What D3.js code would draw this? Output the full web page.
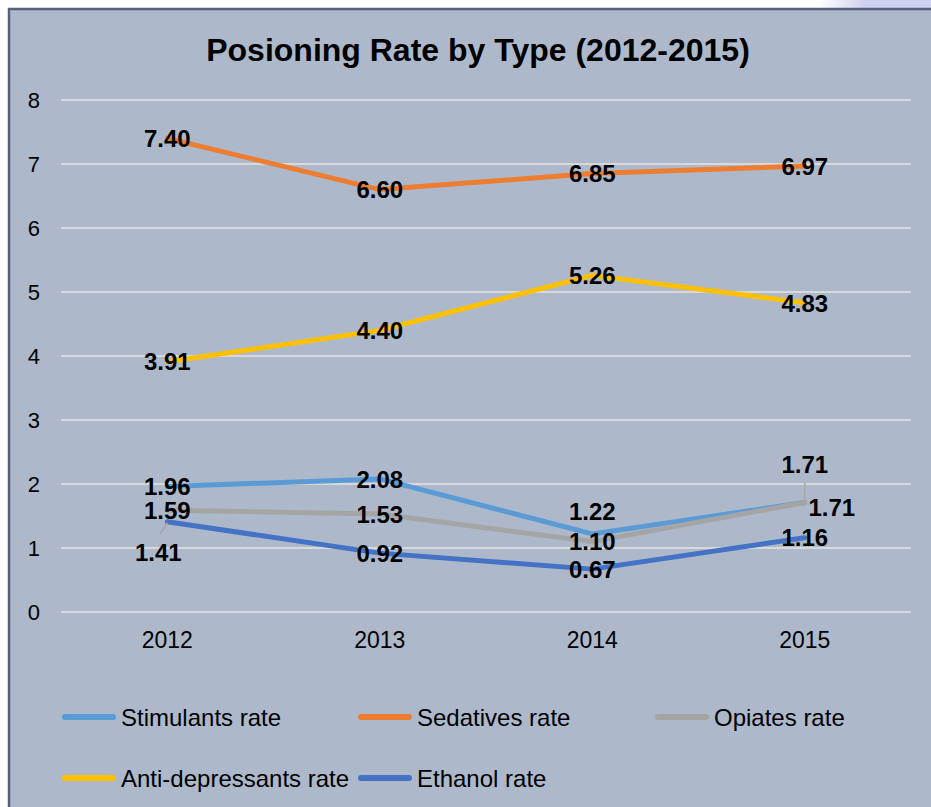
<!DOCTYPE html>
<html>
<head>
<meta charset="utf-8">
<script src="https://cdn.jsdelivr.net/npm/d3@7"></script>
<style>
  html, body { margin: 0; padding: 0; background: #ffffff; }
  svg { display: block; font-family: Arial, "Liberation Sans", sans-serif; }
</style>
</head>
<body>
<div id="chart"></div>
<script>
// Chart data
const years = ["2012", "2013", "2014", "2015"];
const stimulants = [1.96, 2.08, 1.22, 1.71];
const sedatives = [7.40, 6.60, 6.85, 6.97];
const opiates = [1.59, 1.53, 1.10, 1.71];
const antiDepressants = [3.91, 4.40, 5.26, 4.83];
const ethanol = [1.41, 0.92, 0.67, 1.16];
const yTicks = [0, 1, 2, 3, 4, 5, 6, 7, 8];

const series = [
    { name: "Stimulants rate", values: stimulants, color: "#5B9BD5" },
    { name: "Sedatives rate", values: sedatives, color: "#ED7D31" },
    { name: "Opiates rate", values: opiates, color: "#A5A5A5" },
    { name: "Anti-depressants rate", values: antiDepressants, color: "#FFC000" },
    { name: "Ethanol rate", values: ethanol, color: "#4472C4" }
];

// Labels that were moved off their point in the original (pixel offsets)
const labelNudges = {
    "Stimulants rate": { 2: [0, -23], 3: [0, -38] },
    "Opiates rate": { 3: [27, 5] },
    "Ethanol rate": { 0: [-9, 31] }
};

const width = 931, height = 807;
const plot = { left: 61, right: 911, top: 100, bottom: 612 };

const svg = d3.select("#chart").append("svg")
    .attr("width", width)
    .attr("height", height);

// Strip above the chart box: white fading to lavender on the right
const defs = svg.append("defs");
const grad = defs.append("linearGradient").attr("id", "topStrip")
    .attr("x1", 0).attr("x2", 1).attr("y1", 0).attr("y2", 0);
grad.append("stop").attr("offset", "0.88").attr("stop-color", "#ffffff");
grad.append("stop").attr("offset", "0.93").attr("stop-color", "#cfd0f0");
grad.append("stop").attr("offset", "1").attr("stop-color", "#cfd0f0");
svg.append("rect").attr("x", 0).attr("y", 0).attr("width", width).attr("height", 10)
    .attr("fill", "url(#topStrip)");

// Chart box
svg.append("rect")
    .attr("x", 9).attr("y", 9)
    .attr("width", width + 20).attr("height", height + 20)
    .attr("fill", "#adb9cb")
    .attr("stroke", "#55627a")
    .attr("stroke-width", 2.5);

// Title
svg.append("text")
    .attr("x", 478)
    .attr("y", 61)
    .attr("text-anchor", "middle")
    .style("font-size", "32px")
    .style("font-weight", "bold")
    .style("fill", "#000")
    .text("Posioning Rate by Type (2012-2015)");

// Scales
const x = d3.scaleBand().domain(years).range([plot.left, plot.right]);
const y = d3.scaleLinear().domain([0, 8]).range([plot.bottom, plot.top]);
const cx = d => x(d) + x.bandwidth() / 2;

// Gridlines
svg.append("g").selectAll("line")
    .data(yTicks)
    .join("line")
    .attr("x1", plot.left).attr("x2", plot.right)
    .attr("y1", d => y(d)).attr("y2", d => y(d))
    .style("stroke", "#d9d9d9")
    .style("stroke-width", 2);

// Y axis labels
svg.append("g").selectAll("text")
    .data(yTicks)
    .join("text")
    .attr("x", 40)
    .attr("y", d => y(d))
    .attr("dy", "0.35em")
    .attr("text-anchor", "end")
    .style("font-size", "22px")
    .style("fill", "#000")
    .text(d => d);

// X axis labels
svg.append("g").selectAll("text")
    .data(years)
    .join("text")
    .attr("x", d => cx(d))
    .attr("y", 648)
    .attr("text-anchor", "middle")
    .style("font-size", "23px")
    .style("fill", "#000")
    .text(d => d);

// Lines
const line = d3.line()
    .x((d, i) => cx(years[i]))
    .y(d => y(d));

series.forEach(s => {
    svg.append("path")
        .datum(s.values)
        .attr("d", line)
        .attr("fill", "none")
        .attr("stroke", s.color)
        .attr("stroke-width", 5)
        .attr("stroke-linejoin", "round")
        .attr("stroke-linecap", "round");
});

// Leader lines for displaced labels
svg.append("line")
    .attr("x1", cx("2012") - 7).attr("y1", y(ethanol[0]) + 12)
    .attr("x2", cx("2012")).attr("y2", y(ethanol[0]) + 1)
    .style("stroke", "#a6a6a6").style("stroke-width", 1.5);
svg.append("line")
    .attr("x1", cx("2015")).attr("y1", y(stimulants[3]) - 20)
    .attr("x2", cx("2015")).attr("y2", y(stimulants[3]) - 2)
    .style("stroke", "#a6a6a6").style("stroke-width", 1.5);

// Data labels
series.forEach(s => {
    const nudge = labelNudges[s.name] || {};
    s.values.forEach((v, i) => {
        const off = nudge[i] || [0, 0];
        svg.append("text")
            .attr("x", cx(years[i]) + off[0])
            .attr("y", y(v) + off[1])
            .attr("dy", "0.36em")
            .attr("text-anchor", "middle")
            .style("font-size", "24px")
            .style("font-weight", "bold")
            .style("fill", "#000")
            .text(v.toFixed(2));
    });
});

// Legend
const legendPos = [[62, 717], [358, 717], [655, 717], [62, 778], [358, 778]];
series.forEach((s, i) => {
    const [lx, ly] = legendPos[i];
    svg.append("line")
        .attr("x1", lx + 3).attr("x2", lx + 51)
        .attr("y1", ly).attr("y2", ly)
        .style("stroke", s.color)
        .style("stroke-width", 6)
        .style("stroke-linecap", "round");
    svg.append("text")
        .attr("x", lx + 59)
        .attr("y", ly)
        .attr("dy", "0.36em")
        .style("font-size", "24px")
        .style("fill", "#000")
        .text(s.name);
});
</script>
</body>
</html>
